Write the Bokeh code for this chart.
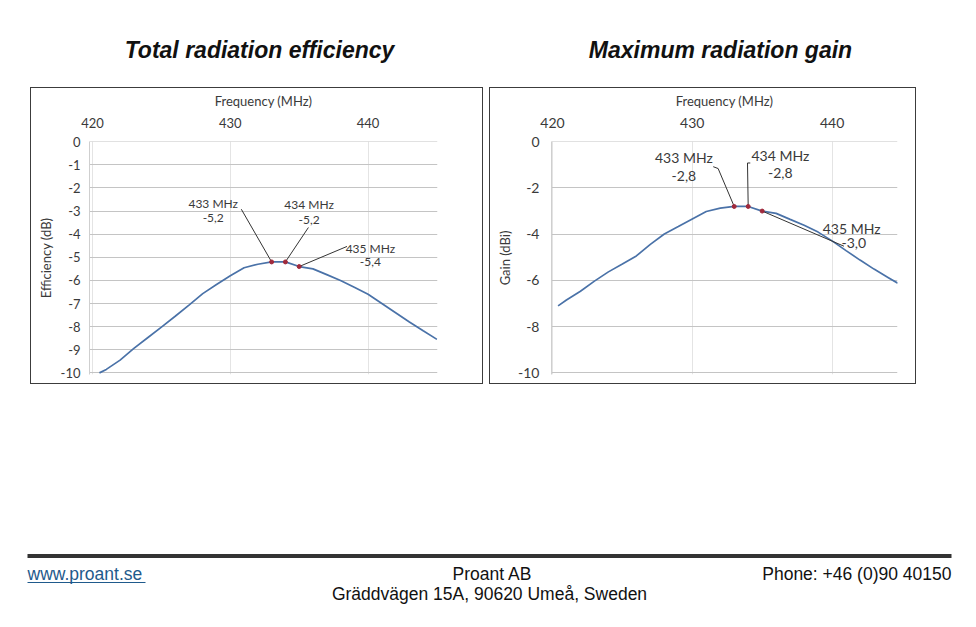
from bokeh.plotting import figure
from bokeh.models import Range1d, FixedTicker, Spacer
from bokeh.layouts import column, row
from bokeh.embed import file_html
from bokeh.resources import INLINE
from bokeh.core.properties import value

# ---------------- data ----------------
eff_freq = [420.5, 421, 422, 423, 424, 425, 426, 427, 428, 429, 430, 431, 432,
            433, 434, 435, 436, 437, 438, 439, 440, 441, 442, 443, 444, 445]
eff_db = [-10.0, -9.85, -9.45, -8.94, -8.48, -8.02, -7.55, -7.07, -6.57, -6.18, -5.8, -5.45, -5.3,
          -5.2, -5.2, -5.4, -5.5, -5.75, -6.0, -6.3, -6.6, -7.0, -7.4, -7.8, -8.18, -8.55]

gain_freq = [420.4, 421, 422, 423, 424, 425, 426, 427, 428, 429, 430, 431, 432,
             433, 434, 435, 436, 437, 438, 439, 440, 441, 442, 443, 444, 444.7]
gain_dbi = [-7.1, -6.85, -6.47, -6.03, -5.63, -5.29, -4.94, -4.44, -3.99, -3.67, -3.34, -3.02, -2.87,
            -2.8, -2.8, -3.0, -3.1, -3.36, -3.61, -3.91, -4.29, -4.71, -5.12, -5.51, -5.87, -6.12]

marked_freq = [433, 434, 435]

x_ticks = [420, 430, 440]
eff_ticks = [0, -1, -2, -3, -4, -5, -6, -7, -8, -9, -10]
gain_ticks = [0, -2, -4, -6, -8, -10]

titles = ["Total radiation efficiency", "Maximum radiation gain"]
x_label = "Frequency (MHz)"
eff_label = "Efficiency (dB)"
gain_label = "Gain (dBi)"

LINE_COLOR = "#4a72a8"
TXT = "#3a3a3a"
FONT = "Lato"


def fmt(v):
    return f"{v:.1f}".replace(".", ",")


def make_chart(freq, vals, yticks, ylabel, xr, width, mbl, mbr, tick_fs, ann_fs,
               name_pos, val_pos, leaders, ylabel_standoff, tick_standoff):
    p = figure(width=width, height=297, output_backend="svg", toolbar_location=None,
               x_axis_location="above",
               x_range=Range1d(*xr), y_range=Range1d(-10.07, 0.01),
               min_border_left=mbl, min_border_right=mbr, min_border_top=53, min_border_bottom=11,
               outline_line_color=None, background_fill_color="white", border_fill_color="white",
               styles={"border": "1px solid #3c3c3c"})
    p.xaxis.ticker = FixedTicker(ticks=x_ticks)
    p.yaxis.ticker = FixedTicker(ticks=yticks)
    p.xaxis.major_label_overrides = {t: str(t) for t in x_ticks}
    p.yaxis.major_label_overrides = {t: str(t) for t in yticks}
    p.xaxis.axis_label = x_label
    p.yaxis.axis_label = ylabel
    for ax in (p.xaxis, p.yaxis):
        ax.major_tick_line_color = None
        ax.minor_tick_line_color = None
        ax.major_tick_out = 0
        ax.major_tick_in = 0
        ax.minor_tick_out = 0
        ax.minor_tick_in = 0
        ax.major_label_text_font = FONT
        ax.major_label_text_font_size = tick_fs
        ax.major_label_text_color = TXT
        ax.axis_label_text_font = FONT
        ax.axis_label_text_font_size = "13px"
        ax.axis_label_text_font_style = "normal"
        ax.axis_label_text_color = TXT
    p.xaxis.axis_line_color = None
    p.yaxis.axis_line_color = "#cfcfcf"
    p.xaxis.major_label_standoff = 14
    p.xaxis.axis_label_standoff = 6
    p.yaxis.major_label_standoff = tick_standoff
    p.yaxis.axis_label_standoff = ylabel_standoff
    p.ygrid.grid_line_color = "#c4c4c4"
    p.xgrid.grid_line_color = "#e4e4e4"

    p.line(freq, vals, color=LINE_COLOR, line_width=1.7)

    mv = [vals[freq.index(f)] for f in marked_freq]
    # leader lines
    xs = [lx + [f] for (lx, ly), f in zip(leaders, marked_freq)]
    ys = [ly + [v] for (lx, ly), v in zip(leaders, mv)]
    p.multi_line(xs, ys, color="#333333", line_width=1)
    p.scatter(marked_freq, mv, size=4, color="#a02a3c")

    names = [f"{f} MHz" for f in marked_freq]
    p.text([q[0] for q in name_pos], [q[1] for q in name_pos], text=names,
           text_align="center", text_baseline="middle", text_font=value(FONT),
           text_font_size=ann_fs, text_color=TXT)
    p.text([q[0] for q in val_pos], [q[1] for q in val_pos], text=[fmt(v) for v in mv],
           text_align="center", text_baseline="middle", text_font=value(FONT),
           text_font_size=ann_fs, text_color=TXT)
    return p


p1 = make_chart(eff_freq, eff_db, eff_ticks, eff_label, (419.78, 445.04), 453, 58, 47,
                "13px", "12px",
                name_pos=[(428.76, -2.66), (435.72, -2.72), (440.17, -4.64)],
                val_pos=[(428.76, -3.3), (435.72, -3.37), (440.17, -5.22)],
                leaders=[([430.8], [-2.92]), ([435.67], [-3.71]), ([438.47], [-4.53])],
                ylabel_standoff=4, tick_standoff=9)

p2 = make_chart(gain_freq, gain_dbi, gain_ticks, gain_label, (419.93, 444.68), 427, 61, 20,
                "14px", "14px",
                name_pos=[(429.4, -0.7), (436.3, -0.6), (441.4, -3.76)],
                val_pos=[(429.4, -1.47), (436.3, -1.35), (441.55, -4.4)],
                leaders=[([431.5, 431.85], [-1.08, -1.16]), ([434.15, 433.95], [-0.92, -0.92]),
                         ([440.85], [-4.52])],
                ylabel_standoff=2, tick_standoff=12)

# header with titles
hdr = figure(width=976, height=87, output_backend="svg", toolbar_location=None,
             x_range=Range1d(0, 976), y_range=Range1d(87, 0),
             x_axis_type=None, y_axis_type=None, outline_line_color=None,
             min_border=0, background_fill_color="white", border_fill_color="white")
hdr.grid.visible = False
hdr.text([259, 720], [49, 49], text=titles, text_align="center", text_baseline="middle",
         text_font=value("Liberation Sans"), text_font_style="bold italic",
         text_font_size="23px", text_color="#111111")

# footer
FOOT_FS = "17.5px"
ftr = figure(width=976, height=87, output_backend="svg", toolbar_location=None,
             x_range=Range1d(0, 976), y_range=Range1d(87, 0),
             x_axis_type=None, y_axis_type=None, outline_line_color=None,
             min_border=0, background_fill_color="white", border_fill_color="white")
ftr.grid.visible = False
ftr.segment(x0=[27], y0=[15.5], x1=[951], y1=[15.5], line_width=4, color="#333333")
ftr.text([27], [33], text=["www.proant.se"], text_align="left", text_baseline="middle",
         text_font=value("Liberation Sans"), text_font_size=FOOT_FS, text_color="#1f5a8c")
ftr.segment(x0=[27], y0=[42], x1=[145], y1=[42], line_width=1, color="#1f5a8c")
ftr.text([492], [33], text=["Proant AB"], text_align="center", text_baseline="middle",
         text_font=value("Liberation Sans"), text_font_size=FOOT_FS, text_color="#111111")
ftr.text([489], [53], text=["Gräddvägen 15A, 90620 Umeå, Sweden"], text_align="center",
         text_baseline="middle", text_font=value("Liberation Sans"), text_font_size=FOOT_FS,
         text_color="#111111")
ftr.text([951], [33], text=["Phone: +46 (0)90 40150"], text_align="right", text_baseline="middle",
         text_font=value("Liberation Sans"), text_font_size=FOOT_FS, text_color="#111111")

page = column(hdr,
              row(Spacer(width=30, height=297), p1, Spacer(width=6, height=297), p2),
              Spacer(width=976, height=156),
              ftr)

open("out.html", "w").write(file_html(page, INLINE))
